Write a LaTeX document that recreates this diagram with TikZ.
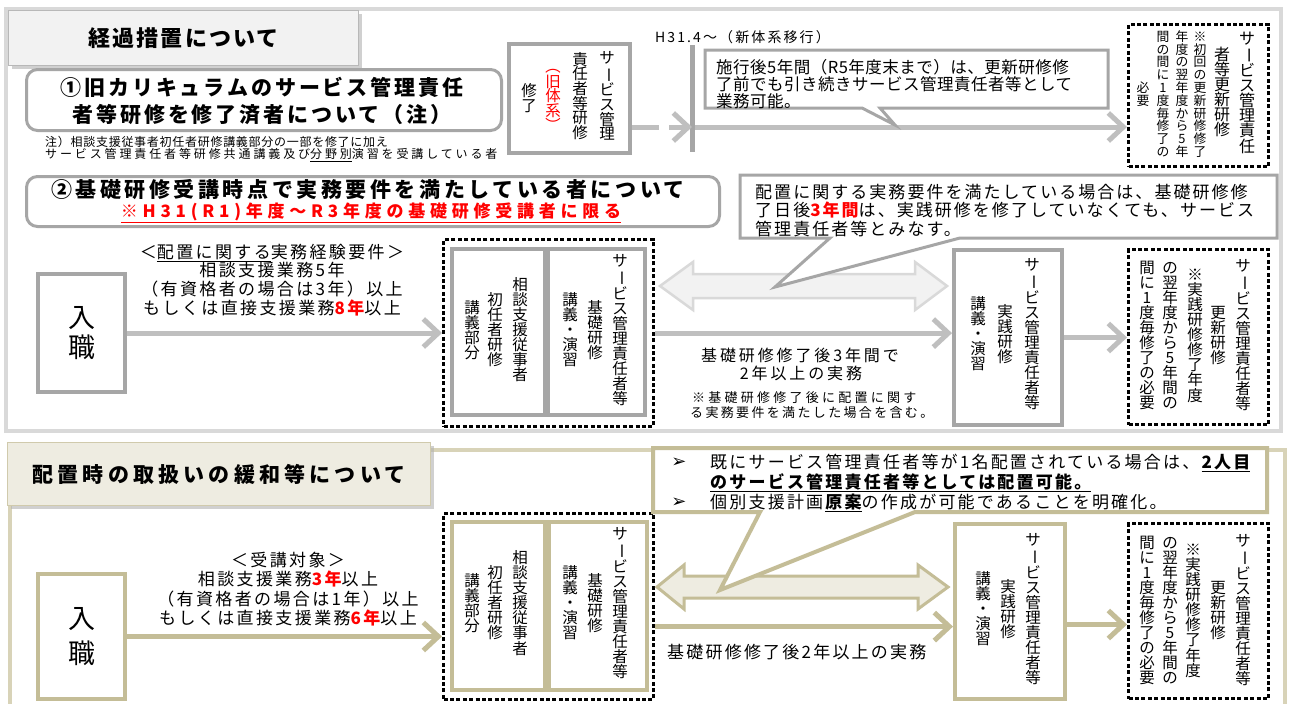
\documentclass[tikz,border=0pt]{standalone}
\usepackage{fontspec}
\setmainfont{Noto Sans CJK JP}
\newfontfamily\dejavu{DejaVu Sans}
\usepackage{graphicx}
\usetikzlibrary{arrows.meta,shadows}
\definecolor{frgray}{HTML}{D9D9D9}
\definecolor{bxgray}{HTML}{A6A6A6}
\definecolor{argray}{HTML}{BFBFBF}
\definecolor{ttfill}{HTML}{F2F2F2}
\definecolor{tanbd}{HTML}{C4BD97}
\definecolor{tanfr}{HTML}{D8D3B8}
\definecolor{tanfill}{HTML}{EEECE1}
\definecolor{jred}{HTML}{FF0000}
\newcommand\trk[1]{\addfontfeature{LetterSpace=#1}}
\newcommand\fs[2]{\fontsize{#1}{#2}\selectfont}
\newcommand\rb[1]{{\bfseries\color{jred}#1}}
\ExplSyntaxOn
\cs_new:Npn \jvc_char:n #1
 {
  \str_case:nnF {#1}
   {
    {ー}{\rotatebox[origin=c]{-90}{ー}}
    {（}{\rotatebox[origin=c]{-90}{（}}
    {）}{\rotatebox[origin=c]{-90}{）}}
   }
   {#1}
 }
\NewDocumentCommand\vcol{O{-0.03}m}
 {
  \vbox{\offinterlineskip
   \tl_map_inline:nn {#2}
    {
     \hbox to 1em {\vrule height .88em depth .12em width 0pt \hss \jvc_char:n {##1} \hss}
     \kern #1 em\relax
    }
   \kern -#1 em\relax
  }
 }
\ExplSyntaxOff
\begin{document}
\begin{tikzpicture}[x=1pt,y=-1pt,
  gbox/.style={draw=bxgray,line width=4pt,fill=white,inner sep=0pt},
  tbox/.style={draw=tanbd,line width=4pt,fill=white,inner sep=0pt},
  dbox/.style={draw=black,line width=3.2pt,dash pattern=on 4pt off 2.4pt,inner sep=0pt},
  rbox/.style={draw=bxgray,line width=3pt,rounded corners=11pt,fill=white,inner sep=0pt},
  ttlg/.style={draw=bxgray!80,line width=1.2pt,fill=ttfill,inner sep=0pt,drop shadow={shadow xshift=3pt,shadow yshift=-3pt,fill=black!30,opacity=.6}},
  ttlt/.style={draw=tanbd!80,line width=1.2pt,fill=tanfill,inner sep=0pt,drop shadow={shadow xshift=3pt,shadow yshift=-3pt,fill=black!30,opacity=.6}},
  vt/.style={inner sep=0pt,font=\fs{15.5}{15.5}},
  vs/.style={inner sep=0pt,font=\fs{12.8}{12.8}},
  vb/.style={inner sep=0pt,font=\fs{16}{16}},
  txt/.style={inner sep=0pt},
  garrow/.style={draw=argray,line width=5pt,-{Straight Barb[length=15pt,width=28pt]}},
  tarrow/.style={draw=tanbd,line width=5pt,-{Straight Barb[length=15pt,width=28pt]}},
  callg/.style={draw=bxgray,line width=3pt,fill=white},
  callt/.style={draw=tanbd,line width=4pt,fill=white},
  dblg/.style={draw=frgray,line width=2.5pt,fill=ttfill},
  dblt/.style={draw=tanbd,line width=3pt,fill=tanfill}]
\useasboundingbox (0,0) rectangle (1291,704);
\fill[white] (0,0) rectangle (1291,704);
%================ TOP SECTION ================
\draw[frgray,line width=4pt] (6,9) rectangle (1281,431);
\node[ttlg,minimum width=350,minimum height=55,anchor=north west,font=\bfseries\fs{22}{22}\trk{10}] (t1) at (8,10) {経過措置について};
\node[rbox,minimum width=475,minimum height=61,anchor=north west] (c1) at (25,68) {};
\node[txt,align=center,font=\bfseries\fs{21}{27}\trk{14}] (c1t) at (262,101) {①旧カリキュラムのサービス管理責任\\者等研修を修了済者について（注）};
\node[txt,anchor=west,font=\fs{12}{12}\trk{6}] (n1) at (45,142) {注）相談支援従事者初任者研修講義部分の一部を修了に加え};
\node[txt,anchor=west,font=\fs{12}{12}\trk{24}] (n2) at (45,155) {サービス管理責任者等研修共通講義及び\underline{分野別}演習を受講している者};
% old system box
\node[gbox,minimum width=121,minimum height=109,anchor=north west] (old) at (507,42) {};
\node[vt] (old1) at (607,96) {\vcol[-0.05]{サービス管理}};
\node[vt] (old2) at (580,96) {\vcol[-0.05]{責任者等研修}};
\node[vt,text=jred] (old3) at (553,96) {\vcol[-0.05]{（旧体系）}};
\node[vt] (old4) at (529,98) {\vcol[-0.05]{修了}};
% H31 line
\node[txt,anchor=west,font=\fs{14}{14}\trk{15}] (h31) at (655,37) {H31.4～（新体系移行）};
\coordinate (vt1) at (692,45);
\coordinate (vb1) at (692,152);
\coordinate (va) at (692,127);
\draw[bxgray,line width=5pt] (vt1) -- (vb1);
\draw[garrow,dash pattern=on 27pt off 10pt on 100pt] (old.east |- va) -- (va);
% top-right dotted box
\node[dbox,minimum width=140,minimum height=142,anchor=north west] (dot1) at (1127,23) {};
\draw[garrow] ([xshift=3pt]va) -- (va -| dot1.west);
% callout top
\draw[callg] (705,50) -- (1108,50) -- (1108,108) -- (880,108) -- (895,125) -- (862,108) -- (705,108) -- cycle;
\node[txt,anchor=west,font=\fs{16.5}{16.5}\trk{3}] (ca1) at (716,67) {施行後5年間（R5年度末まで）は、更新研修修};
\node[txt,anchor=west,font=\fs{16.5}{16.5}\trk{3}] (ca2) at (716,84) {了前でも引き続きサービス管理責任者等として};
\node[txt,anchor=west,font=\fs{16.5}{16.5}\trk{3}] (ca3) at (716,101) {業務可能。};
\node[vb] (dt1) at (1247,92) {\vcol[-0.06]{サービス管理責任}};
\node[vb] (dt2) at (1222,92) {\vcol[-0.06]{者等更新研修}};
\node[vs] (dt3) at (1200,94) {\vcol[0]{※初回の更新研修修了}};
\node[vs] (dt4) at (1182,94) {\vcol[0]{年度の翌年度から5年}};
\node[vs] (dt5) at (1163,94) {\vcol[0]{間の間に1度毎修了の}};
\node[vs] (dt6) at (1143,94) {\vcol[0]{必要}};
%================ MIDDLE SECTION ================
\node[rbox,minimum width=693,minimum height=50,anchor=north west] (c2) at (25,175) {};
\node[txt,font=\bfseries\fs{21}{21}\trk{17}] (c2a) at (368,190) {②基礎研修受講時点で実務要件を満たしている者について};
\node[txt,font=\bfseries\fs{17}{17}\trk{28},text=jred] (c2b) at (371,213) {\underline{※H31(R1)年度～R3年度の基礎研修受講者に限る}};
\node[txt,align=center,font=\fs{17}{18.7}\trk{14}] (req1) at (272,280) {＜\underline{配置に関する}実務経験要件＞\\相談支援業務5年\\（有資格者の場合は3年）以上\\もしくは直接支援業務\rb{8年}以上};
\node[gbox,minimum width=87,minimum height=118,anchor=north west,align=center,font=\fs{27}{30}] (in1) at (36,272) {入\\職};
\node[dbox,minimum width=210,minimum height=187,anchor=north west] (d2) at (442,238) {};
\node[gbox,minimum width=93,minimum height=166,anchor=north west] (d2l) at (450,247) {};
\node[gbox,minimum width=97,minimum height=166,anchor=north west] (d2r) at (546,247) {};
\node[vt] (d2a) at (520,330) {\vcol{相談支援従事者}};
\node[vt] (d2b) at (495,330) {\vcol{初任者研修}};
\node[vt] (d2c) at (472,330) {\vcol{講義部分}};
\node[vt] (d2d) at (620,330) {\vcol{サービス管理責任者等}};
\node[vt] (d2e) at (595,330) {\vcol{基礎研修}};
\node[vt] (d2f) at (570,330) {\vcol{講義・演習}};
\draw[garrow] (in1.east) -- (in1.east -| d2.west);
\node[gbox,minimum width=108,minimum height=175,anchor=north west] (jp2) at (952,248) {};
\node[vt] (jp2a) at (1032,334) {\vcol{サービス管理責任者等}};
\node[vt] (jp2b) at (1005,334) {\vcol{実践研修}};
\node[vt] (jp2c) at (978,334) {\vcol{講義・演習}};
\node[dbox,minimum width=140,minimum height=175,anchor=north west] (d3) at (1127,248) {};
\node[vt] (d3a) at (1243,335) {\vcol{サービス管理責任者等}};
\node[vt] (d3b) at (1218,335) {\vcol{更新研修}};
\node[vt] (d3c) at (1195,335) {\vcol{※実践研修修了年度}};
\node[vt] (d3d) at (1170,335) {\vcol{の翌年度から5年間の}};
\node[vt] (d3e) at (1147,335) {\vcol{間に1度毎修了の必要}};
\draw[garrow] (d2.east) -- (d2.east -| jp2.west);
\draw[garrow] (jp2.east) -- (jp2.east -| d3.west);
\draw[dblg] (660,286) -- (693,262) -- (693,274) -- (915,274) -- (915,262) -- (947,286) -- (915,310) -- (915,298) -- (693,298) -- (693,310) -- cycle;
\draw[callg] (740,175) -- (1277,175) -- (1277,238) -- (960,238) -- (775,287) -- (830,238) -- (740,238) -- cycle;
\node[txt,anchor=west,font=\fs{17}{17}\trk{12}] (cb1) at (755,192) {配置に関する実務要件を満たしている場合は、基礎研修修};
\node[txt,anchor=west,font=\fs{17}{17}\trk{12}] (cb2) at (755,210) {了日後\rb{3年間}は、実践研修を修了していなくても、サービス};
\node[txt,anchor=west,font=\fs{17}{17}\trk{12}] (cb3) at (755,229) {管理責任者等とみなす。};
\node[txt,font=\fs{16}{16}\trk{18}] (m3a) at (800,355) {基礎研修修了後3年間で};
\node[txt,font=\fs{16}{16}\trk{18}] (m3b) at (801,373) {2年以上の実務};
\node[txt,anchor=west,font=\fs{13}{13}\trk{25}] (m4a) at (692,398) {※基礎研修修了後に配置に関す};
\node[txt,anchor=west,font=\fs{13}{13}\trk{18}] (m4b) at (690,413) {る実務要件を満たした場合を含む。};
%================ BOTTOM SECTION ================
\draw[tanfr,line width=4pt] (10,450) rectangle (1285,730);
\node[ttlt,minimum width=423,minimum height=63,anchor=north west,font=\bfseries\fs{21}{21}\trk{20}] (t2) at (7,442) {配置時の取扱いの緩和等について};
\node[txt,align=center,font=\fs{17}{19.3}\trk{14}] (req2) at (288,589) {＜受講対象＞\\相談支援業務\rb{3年}以上\\（有資格者の場合は1年）以上\\もしくは直接支援業務\rb{6年}以上};
\node[tbox,minimum width=87,minimum height=125,anchor=north west,align=center,font=\fs{27}{35}] (in2) at (36,572) {入\\職};
\node[dbox,minimum width=210,minimum height=186,anchor=north west] (d5) at (442,512) {};
\node[tbox,minimum width=93,minimum height=168,anchor=north west] (d5l) at (450,520) {};
\node[tbox,minimum width=98,minimum height=168,anchor=north west] (d5r) at (547,520) {};
\node[vt] (d5a) at (520,603) {\vcol{相談支援従事者}};
\node[vt] (d5b) at (495,603) {\vcol{初任者研修}};
\node[vt] (d5c) at (472,603) {\vcol{講義部分}};
\node[vt] (d5d) at (620,603) {\vcol{サービス管理責任者等}};
\node[vt] (d5e) at (595,603) {\vcol{基礎研修}};
\node[vt] (d5f) at (570,603) {\vcol{講義・演習}};
\draw[tarrow] (in2.east) -- (in2.east -| d5.west);
\node[tbox,minimum width=110,minimum height=175,anchor=north west] (jp5) at (953,522) {};
\node[vt] (jp5a) at (1033,609) {\vcol{サービス管理責任者等}};
\node[vt] (jp5b) at (1008,609) {\vcol{実践研修}};
\node[vt] (jp5c) at (983,609) {\vcol{講義・演習}};
\node[dbox,minimum width=140,minimum height=175,anchor=north west] (d6) at (1127,522) {};
\node[vt] (d6a) at (1243,610) {\vcol{サービス管理責任者等}};
\node[vt] (d6b) at (1218,610) {\vcol{更新研修}};
\node[vt] (d6c) at (1193,610) {\vcol{※実践研修修了年度}};
\node[vt] (d6d) at (1170,610) {\vcol{の翌年度から5年間の}};
\node[vt] (d6e) at (1147,610) {\vcol{間に1度毎修了の必要}};
\draw[tarrow] ([yshift=-20pt]d5.east) -- ([yshift=-20pt]d5.east -| jp5.west);
\draw[tarrow] ([yshift=-13pt]jp5.east) -- ([yshift=-13pt]jp5.east -| d6.west);
\node[txt,anchor=west,font=\fs{17}{17}\trk{13}] (b3) at (667,652) {基礎研修修了後2年以上の実務};
\draw[dblt] (657,587) -- (684,565) -- (684,576) -- (918,576) -- (918,565) -- (948,587) -- (918,609) -- (918,598) -- (684,598) -- (684,609) -- cycle;
\draw[callt] (653,448) -- (1267,448) -- (1267,512) -- (915,512) -- (720,590) -- (760,512) -- (653,512) -- cycle;
\node[txt,font=\dejavu\bfseries\fs{18}{18}] (bu1) at (679,463) {➢};
\node[txt,font=\dejavu\bfseries\fs{18}{18}] (bu2) at (679,503) {➢};
\node[txt,anchor=west,font=\fs{17}{17}\trk{13}] (bl1) at (710,463) {既にサービス管理責任者等が1名配置されている場合は、\textbf{\underline{2人目}}};
\node[txt,anchor=west,font=\bfseries\fs{17}{17}\trk{13}] (bl2) at (710,483) {\underline{のサービス管理責任者等としては配置可能。}};
\node[txt,anchor=west,font=\fs{17}{17}\trk{13}] (bl3) at (710,503) {個別支援計画\textbf{\underline{原案}}の作成が可能であることを明確化。};
\end{tikzpicture}
\end{document}
